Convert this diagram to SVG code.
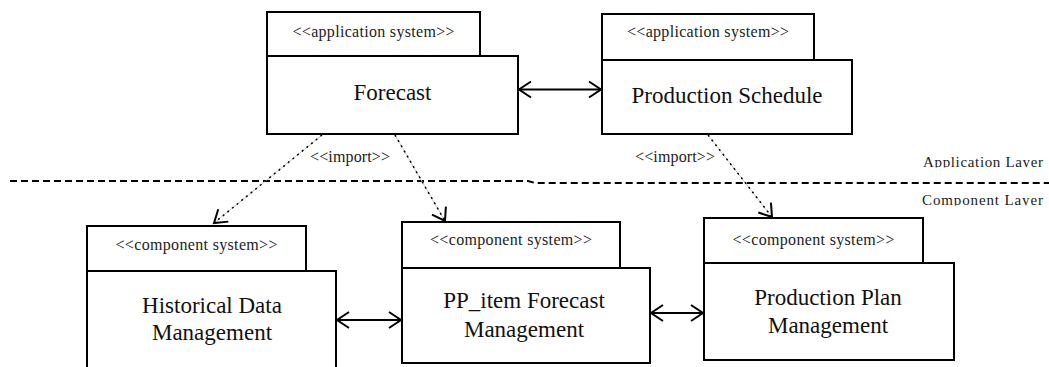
<svg xmlns="http://www.w3.org/2000/svg" width="1049" height="367" viewBox="0 0 1049 367">
  <style>
    .box { fill: #ffffff; stroke: #000000; stroke-width: 2; }
    .stereo { font-family: "Liberation Serif", "Times New Roman", serif; font-size: 16px; fill: #222222; text-anchor: middle; }
    .name { font-family: "Liberation Serif", "Times New Roman", serif; font-size: 23px; fill: #111111; text-anchor: middle; }
    .layer { font-family: "Liberation Serif", "Times New Roman", serif; font-size: 15px; fill: #222222; }
    .assoc { fill: none; stroke: #000000; stroke-width: 2; marker-start: url(#open); marker-end: url(#open); }
    .dep-base { fill: none; stroke: #c8c8c8; stroke-width: 1; }
    .dep { fill: none; stroke: #000000; stroke-width: 1.5; stroke-dasharray: 2 4; marker-end: url(#open); }
    .boundary { fill: none; stroke: #000000; stroke-width: 2; stroke-dasharray: 7 4; }
  </style>
  <defs>
    <marker id="open" markerUnits="userSpaceOnUse" markerWidth="30" markerHeight="30" refX="15" refY="15" orient="auto-start-reverse" viewBox="0 0 30 30" overflow="visible">
      <path d="M3,7 L15,15 L3,23" fill="none" stroke="#000000" stroke-width="2"/>
    </marker>
    <!-- label strips cut just below the baseline -->
    <clipPath id="clipApp"><rect x="900" y="140" width="149" height="27.5"/></clipPath>
    <clipPath id="clipComp"><rect x="900" y="186" width="149" height="19.5"/></clipPath>
  </defs>

  <rect width="1049" height="367" fill="#ffffff"/>

  <!-- layer boundary -->
  <g id="layer-boundary">
    <path class="boundary" d="M10,181 L528,181 L535,183 L1049,183"/>
    <text class="layer" x="923" y="167" textLength="120" lengthAdjust="spacing" clip-path="url(#clipApp)">Application Layer</text>
    <text class="layer" x="922" y="205" textLength="121" lengthAdjust="spacing" clip-path="url(#clipComp)">Component Layer</text>
  </g>

  <!-- connectors -->
  <g id="connectors">
    <line class="assoc" x1="519" y1="89.5" x2="601" y2="89.5"/>
    <line class="assoc" x1="337" y1="320" x2="401" y2="320"/>
    <line class="assoc" x1="651" y1="313" x2="703" y2="313"/>

    <line class="dep-base" x1="322" y1="135" x2="214" y2="223"/>
    <line class="dep" x1="322" y1="135" x2="214" y2="223"/>
    <line class="dep-base" x1="395" y1="135" x2="445" y2="221"/>
    <line class="dep" x1="395" y1="135" x2="445" y2="221"/>
    <line class="dep-base" x1="708" y1="135" x2="772" y2="217"/>
    <line class="dep" x1="708" y1="135" x2="772" y2="217"/>

    <text class="stereo" x="350" y="162" textLength="80" lengthAdjust="spacing">&lt;&lt;import&gt;&gt;</text>
    <text class="stereo" x="675" y="162" textLength="80" lengthAdjust="spacing">&lt;&lt;import&gt;&gt;</text>
  </g>

  <!-- application systems -->
  <g id="forecast">
    <rect class="box" x="267" y="12" width="213" height="44"/>
    <rect class="box" x="267" y="56" width="251" height="78"/>
    <text class="stereo" x="373.5" y="37" textLength="162" lengthAdjust="spacing">&lt;&lt;application system&gt;&gt;</text>
    <text class="name" x="392.5" y="100">Forecast</text>
  </g>

  <g id="production-schedule">
    <rect class="box" x="602" y="14" width="212" height="46"/>
    <rect class="box" x="602" y="60" width="250" height="74"/>
    <text class="stereo" x="708" y="37" textLength="162" lengthAdjust="spacing">&lt;&lt;application system&gt;&gt;</text>
    <text class="name" x="727" y="103">Production Schedule</text>
  </g>

  <!-- component systems -->
  <g id="historical-data-management">
    <rect class="box" x="87" y="226" width="219" height="45"/>
    <path class="box" d="M87,380 L87,271 L336,271 L336,380"/>
    <text class="stereo" x="196.5" y="250" textLength="162" lengthAdjust="spacing">&lt;&lt;component system&gt;&gt;</text>
    <text class="name" x="212" y="313">Historical Data</text>
    <text class="name" x="212" y="340">Management</text>
  </g>

  <g id="pp-item-forecast-management">
    <rect class="box" x="402" y="222" width="218" height="46"/>
    <rect class="box" x="402" y="268" width="248" height="95"/>
    <text class="stereo" x="511" y="245" textLength="162" lengthAdjust="spacing">&lt;&lt;component system&gt;&gt;</text>
    <text class="name" x="524" y="308">PP_item Forecast</text>
    <text class="name" x="524" y="337">Management</text>
  </g>

  <g id="production-plan-management">
    <rect class="box" x="704" y="218" width="219" height="45"/>
    <rect class="box" x="704" y="263" width="250" height="97"/>
    <text class="stereo" x="813.5" y="245" textLength="162" lengthAdjust="spacing">&lt;&lt;component system&gt;&gt;</text>
    <text class="name" x="828" y="305">Production Plan</text>
    <text class="name" x="828" y="333">Management</text>
  </g>
</svg>
